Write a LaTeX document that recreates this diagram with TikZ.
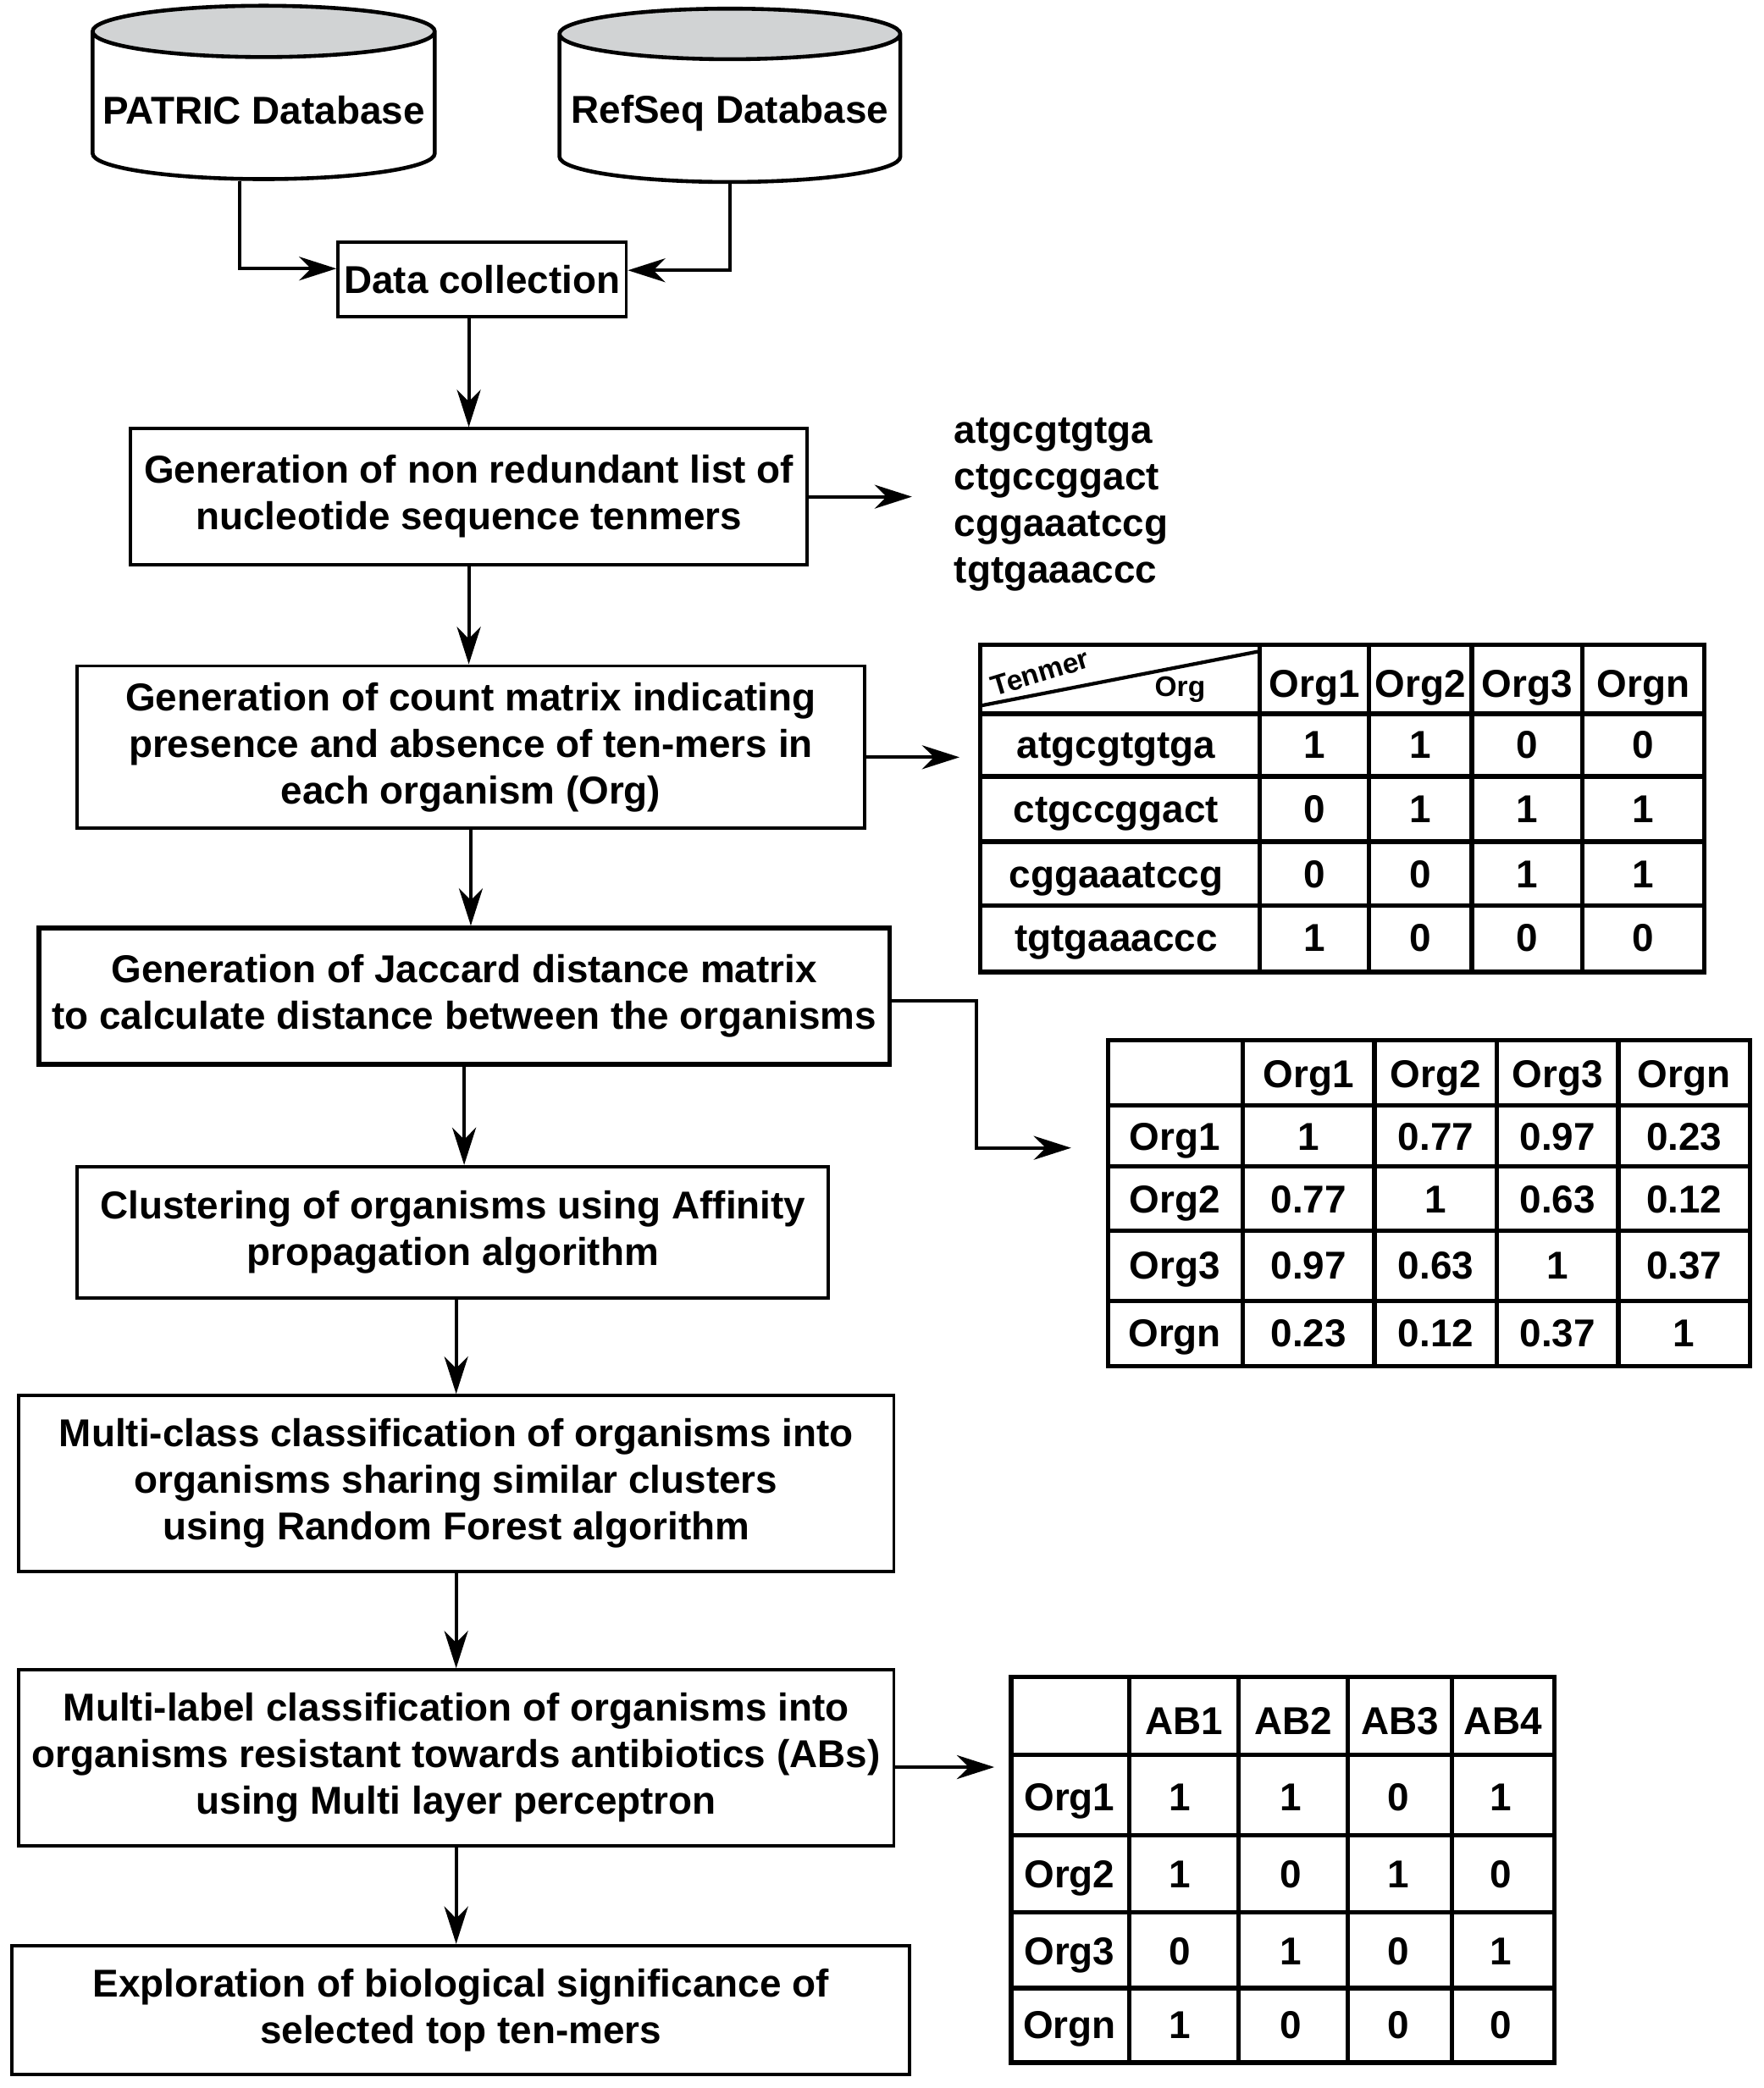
\documentclass[tikz,border=0pt]{standalone}
\definecolor{dbgray}{HTML}{D1D3D4}
\usepackage{fontspec}
\setmainfont{Liberation Sans}
\usepackage{tikz}
\usetikzlibrary{arrows.meta, positioning, shapes.geometric, calc}

\begin{document}
\begin{tikzpicture}[
    x=0.01567cm, y=-0.01567cm,
    box/.style={
      rectangle, draw, line width=1.1pt,
      align=center, inner sep=2pt,
      font=\fontsize{13}{15.6}\selectfont\bfseries
    },
    db/.style={
      cylinder, shape border rotate=90, draw, line width=1.3pt,
      aspect=0.15, cylinder uses custom fill,
      cylinder end fill=dbgray, cylinder body fill=white,
      minimum width=4.01cm, minimum height=2.04cm,
      font=\fontsize{13}{15.6}\selectfont\bfseries
    },
    tabframe/.style={rectangle, draw, line width=1.5pt, inner sep=0pt},
    tabline/.style={line width=1.5pt},
    cell/.style={inner sep=0pt, text height=9.4pt, text depth=0pt,
      font=\fontsize{13}{15.6}\selectfont\bfseries},
    small/.style={inner sep=0pt, font=\fontsize{9.5}{11}\selectfont\bfseries},
    >={Stealth[length=4.4mm, width=2.8mm, inset=1.4mm]}
  ]
    \useasboundingbox (0,0) rectangle (1324,1568);

    \node[db] (patric) at (198,83) {PATRIC Database};
    \node[db] (refseq) at (548,85) {RefSeq Database};

    \node[box, minimum width=3.38cm, minimum height=0.88cm] (dc)     at (362,210)    {Data collection};
    \node[box, minimum width=7.96cm, minimum height=1.60cm] (gen)    at (352,373)    {Generation of non redundant list of\\nucleotide sequence tenmers};
    \node[box, minimum width=9.26cm, minimum height=1.91cm] (count)  at (353.5,561)  {Generation of count matrix indicating\\presence and absence of ten-mers in\\each organism (Org)};
    \node[box, line width=1.6pt, minimum width=10.01cm, minimum height=1.60cm] (jacc) at (348.5,748) {Generation of Jaccard distance matrix\\to calculate distance between the organisms};
    \node[box, minimum width=8.84cm, minimum height=1.55cm] (clust)  at (340,925.5)  {Clustering of organisms using Affinity\\propagation algorithm};
    \node[box, minimum width=10.30cm, minimum height=2.07cm] (mclass) at (342.5,1114) {Multi-class classification of organisms into\\organisms sharing similar clusters\\using Random Forest algorithm};
    \node[box, minimum width=10.30cm, minimum height=2.07cm] (mlabel) at (342.5,1320) {Multi-label classification of organisms into\\organisms resistant towards antibiotics (ABs)\\using Multi layer perceptron};
    \node[box, minimum width=10.56cm, minimum height=1.52cm] (expl)   at (346,1509.5) {Exploration of biological significance of\\selected top ten-mers};

    \node[anchor=west, align=left, inner sep=0pt, font=\fontsize{13}{15.6}\selectfont\bfseries] (kmers) at (716,379) {atgcgtgtga\\ctgccggact\\cggaaatccg\\tgtgaaaccc};

    \node[tabframe, minimum width=8.52cm, minimum height=3.855cm] (counts) at (1008,607) {};
    \foreach \x in {946,1028,1105,1188} \draw[tabline] (\x,484) -- (\x,730);
    \foreach \y in {536,583,632,680} \draw[tabline] (736,\y) -- (1280,\y);
    \draw[line width=1.2pt] (736,530) -- (946,489);
    \node[small, rotate=17] (tenmer) at (781,505) {Tenmer};
    \node[small] (orglab) at (886,518) {Org};
    \foreach \c/\x in {1/987,2/1066.5,3/1146.5,n/1234}
      \node[cell] (ca-h\c) at (\x,513) {Org\c};
    \foreach \r/\y/\seq/\a/\b/\c/\d in {1/559/atgcgtgtga/1/1/0/0, 2/607/ctgccggact/0/1/1/1,
        3/656/cggaaatccg/0/0/1/1, 4/704/tgtgaaaccc/1/0/0/0} {
      \node[cell] (ca-\r) at (838,\y) {\seq};
      \node[cell] (ca-\r-1) at (987,\y) {\a};
      \node[cell] (ca-\r-2) at (1066.5,\y) {\b};
      \node[cell] (ca-\r-3) at (1146.5,\y) {\c};
      \node[cell] (ca-\r-4) at (1234,\y) {\d};
    }

    \node[tabframe, minimum width=7.55cm, minimum height=3.84cm] (jmat) at (1073,903.5) {};
    \foreach \x in {933,1032,1124,1215} \draw[tabline] (\x,781) -- (\x,1026);
    \foreach \y in {830,876,924,977} \draw[tabline] (832,\y) -- (1314,\y);
    \foreach \c/\x in {1/982.5,2/1078,3/1169.5,n/1264.5}
      \node[cell] (jb-h\c) at (\x,806) {Org\c};
    \foreach \r/\y/\a/\b/\c/\d in {1/853/1/0.77/0.97/0.23, 2/900/0.77/1/0.63/0.12,
        3/950/0.97/0.63/1/0.37, n/1001/0.23/0.12/0.37/1} {
      \node[cell] (jb-\r) at (882,\y) {Org\r};
      \node[cell] (jb-\r-1) at (982.5,\y) {\a};
      \node[cell] (jb-\r-2) at (1078,\y) {\b};
      \node[cell] (jb-\r-3) at (1169.5,\y) {\c};
      \node[cell] (jb-\r-4) at (1264.5,\y) {\d};
    }

    \node[tabframe, minimum width=6.39cm, minimum height=4.54cm] (abmat) at (963,1404) {};
    \foreach \x in {848,930,1012,1090} \draw[tabline] (\x,1259) -- (\x,1549);
    \foreach \y in {1318,1378,1436,1493} \draw[tabline] (759,\y) -- (1167,\y);
    \foreach \c/\x in {1/889,2/971,3/1051,4/1128.5}
      \node[cell] (ab-h\c) at (\x,1292) {AB\c};
    \foreach \r/\y/\a/\b/\c/\d in {1/1349/1/1/0/1, 2/1407/1/0/1/0,
        3/1465/0/1/0/1, n/1520/1/0/0/0} {
      \node[cell] (ab-\r) at (803,\y) {Org\r};
      \node[cell] (ab-\r-1) at (886,\y) {\a};
      \node[cell] (ab-\r-2) at (969,\y) {\b};
      \node[cell] (ab-\r-3) at (1050,\y) {\c};
      \node[cell] (ab-\r-4) at (1127,\y) {\d};
    }

    \coordinate (jbend) at (733,862);

    \draw[->, line width=1.1pt] ([xshift=-0.28cm]patric.south) |- ([yshift=0.13cm]dc.west);
    \draw[->, line width=1.1pt] (refseq.south) |- ([yshift=0.11cm]dc.east);
    \draw[->, line width=1.1pt] (gen.north |- dc.south) -- (gen.north);
    \draw[->, line width=1.1pt, shorten >=0.49cm] (gen.east) -- (gen.east -| kmers.west);
    \draw[->, line width=1.1pt] (gen.south) -- (gen.south |- count.north);
    \draw[->, line width=1.1pt, shorten >=0.22cm] ([yshift=-0.12cm]count.east) -- ([yshift=-0.12cm]count.east -| counts.west);
    \draw[->, line width=1.1pt] (count.south) -- (count.south |- jacc.north);
    \draw[->, line width=1.1pt, shorten >=0.41cm] ([yshift=-0.06cm]jacc.east) -| (jbend) -- (jbend -| jmat.west);
    \draw[->, line width=1.1pt] (jacc.south) -- (jacc.south |- clust.north);
    \draw[->, line width=1.1pt] (mclass.north |- clust.south) -- (mclass.north);
    \draw[->, line width=1.1pt] (mclass.south) -- (mclass.south |- mlabel.north);
    \draw[->, line width=1.1pt, shorten >=0.17cm] ([yshift=-0.11cm]mlabel.east) -- ([yshift=-0.11cm]mlabel.east -| abmat.west);
    \draw[->, line width=1.1pt] (mlabel.south) -- (mlabel.south |- expl.north);
  \end{tikzpicture}
\end{document}
